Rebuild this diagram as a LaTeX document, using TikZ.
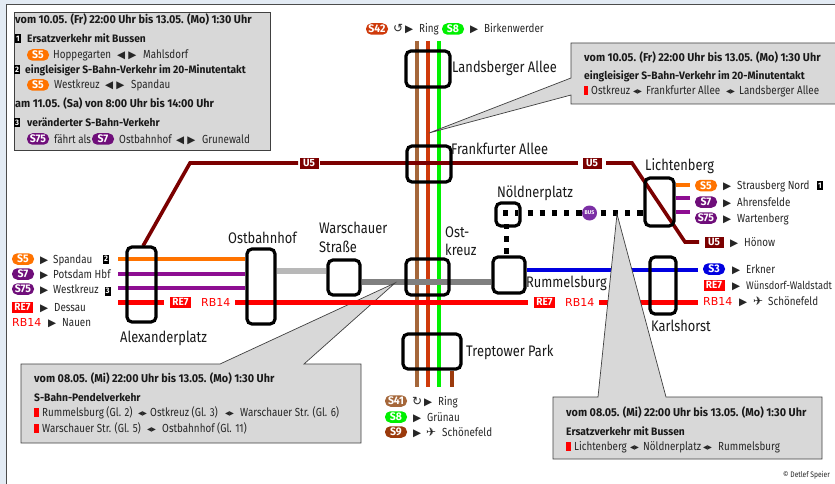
\documentclass[tikz,border=0pt]{standalone}
\usepackage{fontspec}
\setmainfont[FakeStretch=0.84,BoldFeatures={FakeStretch=0.95}]{Fira Sans}
\newfontfamily\symfont{DejaVu Sans}
\usetikzlibrary{backgrounds}
\definecolor{pageblue}{HTML}{E3EBF4}
\definecolor{calloutgray}{HTML}{D8D8D8}
\definecolor{sfive}{HTML}{FF7300}
\definecolor{sseven}{HTML}{8E0E92}
\definecolor{sseventyfive}{HTML}{6F0E7A}
\definecolor{sfourone}{HTML}{A5673A}
\definecolor{sfourtwo}{HTML}{CF3A0B}
\definecolor{seight}{HTML}{00F000}
\definecolor{snine}{HTML}{9B3A0C}
\definecolor{ufive}{HTML}{7B0000}
\definecolor{sthree}{HTML}{0000E0}
\definecolor{rered}{HTML}{FF0000}
\definecolor{busviolet}{HTML}{7B2FA5}
\newcommand{\fwd}{{\symfont\fontsize{10.5}{10}\selectfont ▶}}
\newcommand{\both}{{\symfont\fontsize{10.5}{10}\selectfont ◀\hspace{3pt}▶}}
\newcommand{\tinyboth}{{\symfont\fontsize{6}{6}\selectfont ◀\hspace{-0.5pt}▶}}
\newcommand{\plane}{{\symfont\fontsize{12}{12}\selectfont ✈}}
\newcommand{\rbname}{{\symfont\fontsize{11}{11}\selectfont RB14}}
\tikzset{
  txt/.style={anchor=base west,inner sep=0pt,font=\fontsize{11.7}{11.7}\selectfont,text=black!85},
  head/.style={anchor=base west,inner sep=0pt,font=\fontsize{11.4}{11.4}\bfseries\selectfont,text=black!90},
  subhead/.style={anchor=base west,inner sep=0pt,font=\fontsize{10.8}{10.8}\bfseries\selectfont,text=black!90},
  station/.style={draw=black,line width=3.2pt,rounded corners=5pt,inner sep=0pt},
  stlabel/.style={anchor=base west,inner sep=0pt,font=\fontsize{15.3}{15.3}\selectfont,text=black!90},
  pill/.style={rounded corners=5.4pt,fill=#1,text=white,inner sep=0pt,minimum width=22pt,minimum height=11.5pt,font=\fontsize{11}{11}\bfseries\selectfont},
  tag/.style={fill=#1,text=white,inner sep=0pt,minimum width=21pt,minimum height=11pt,font=\fontsize{10.5}{10.5}\bfseries\selectfont},
  badge/.style={fill=black,text=white,inner sep=0pt,minimum width=6pt,minimum height=9pt,font=\fontsize{8}{8}\bfseries\selectfont},
  redmark/.style={fill=rered,inner sep=0pt,minimum width=4.5pt,minimum height=9pt},
  callout/.style={fill=calloutgray,draw=black!75,line width=0.7pt},
  railline/.style={line width=4pt,draw=#1},
  busline/.style={line width=5.3pt,draw=black,dash pattern=on 5.3pt off 6.9pt},
}
\begin{document}
\begin{tikzpicture}[x=1pt,y=-1pt]
\useasboundingbox (0,0) rectangle (835,484);
% stations
\node[station,minimum width=44pt,minimum height=36pt] (landsberger) at (428,69) {};
\node[station,minimum width=44pt,minimum height=36pt] (frankfurter) at (429,164) {};
\node[station,minimum width=43pt,minimum height=36pt] (ostkreuz) at (427.5,277) {};
\node[station,minimum width=58pt,minimum height=35pt] (treptower) at (432,351.5) {};
\node[station,minimum width=29pt,minimum height=75pt] (alex) at (141.5,284.5) {};
\node[station,minimum width=28pt,minimum height=75pt] (ostbahnhof) at (261,286.5) {};
\node[station,fill=white,minimum width=32pt,minimum height=35pt] (warschauer) at (344,277.5) {};
\node[station,fill=white,minimum width=32pt,minimum height=36pt] (rummelsburg) at (509,275) {};
\node[station,minimum width=24pt,minimum height=23pt] (noeldner) at (508,214.5) {};
\node[station,minimum width=29pt,minimum height=48pt] (lichtenberg) at (659.5,202) {};
\node[station,minimum width=26pt,minimum height=57pt] (karlshorst) at (663,285.5) {};
% line ends
\coordinate (ringtop) at (428,41);
\coordinate (ringbot) at (428,387);
\coordinate (alexwest) at (118,259);
\coordinate (ufivestart) at (143,246);
\coordinate (ufivebend) at (190,163);
\coordinate (ufiveturn) at (632,163);
\coordinate (ufivelow) at (685,242);
\coordinate (ufiveend) at (699,242);
\coordinate (redstart) at (118,302);
\begin{scope}[on background layer]
\fill[pageblue] (0,0) rectangle (835,484);
\fill[white] (6,5) rectangle (835,484);
\draw[black!70,line width=1pt] (6,484) -- (6,5) -- (835,5);
\draw[railline=sfourone] (417,41) -- (417,387);
\draw[railline=sfourtwo] (ringtop) -- (ringbot);
\draw[railline=seight] (439,41) -- (439,387);
\draw[railline=snine] (treptower.south -| 452,0) -- (452,387);
\draw[railline=sfive] (alexwest) -- (ostbahnhof.west |- alexwest);
\draw[railline=sseven] (118,273.5) -- (ostbahnhof.west |- 0,273.5);
\draw[railline=sseven] (118,288) -- (245,288);
\draw[railline=ufive,line width=3.6pt] (ufivestart) -- (ufivebend) -- (298,163);
\draw[railline=ufive,line width=3.6pt] (320,163) -- (578,163);
\draw[railline=ufive,line width=3.6pt] (606,163) -- (ufiveturn) -- (ufivelow) -- (ufiveend);
\draw[railline=black!28,line width=6pt] (ostbahnhof.east |- 0,271) -- (warschauer.west |- 0,271);
\draw[railline=black!50,line width=6pt] (warschauer.east |- 0,282) -- (rummelsburg.west |- 0,282);
\draw[railline=sthree] (rummelsburg.east |- 0,270) -- (698,270);
\draw[railline=sfive] (lichtenberg.east |- 0,185) -- (690,185);
\draw[railline=sseven] (lichtenberg.east |- 0,198) -- (690,198);
\draw[railline=sseven] (lichtenberg.east |- 0,212) -- (690,212);
\draw[busline] (503,213) -- (518,213);
\draw[busline] (527.5,213) -- (lichtenberg.west |- 0,213);
\draw[busline] (506.5,224) -- (506.5,257);
% this callout lies under the red line
\draw[callout] (21,364) -- (220,364) -- (395,283) -- (304,364) -- (361,364) -- (361,443) -- (21,443) -- cycle;
\draw[railline=rered,line width=5pt] (redstart) -- (164,302);
\draw[railline=rered,line width=5pt] (235,302) -- (528,302);
\draw[railline=rered,line width=5pt] (599,302) -- (698,302);
\end{scope}
% other callouts
\draw[callout] (14,12) rectangle (270,150);
\draw[callout] (429,133) -- (571,78) -- (571,43) -- (836,43) -- (836,104) -- (571,104) -- (571,95) -- cycle;
\draw[callout] (617,214) -- (666,397) -- (822,397) -- (822,459) -- (553,459) -- (553,397) -- (598,397) -- cycle;
% bus stop
\node[circle,fill=busviolet,text=white,inner sep=0pt,minimum size=15pt,font=\fontsize{5.5}{5.5}\bfseries\selectfont] (busstop) at (589.5,213) {BUS};
% station labels
\node[stlabel] (llandsberger) at (452,73) {Landsberger Allee};
\node[stlabel] (lfrankfurter) at (451,154) {Frankfurter Allee};
\node[stlabel] (llichtenberg) at (645,170) {Lichtenberg};
\node[stlabel] (lnoeldner) at (497,197) {Nöldnerplatz};
\node[stlabel] (lostbahnhof) at (228,243) {Ostbahnhof};
\node[stlabel] (lwarschauer) at (319,233) {Warschauer};
\node[stlabel] (lstrasse) at (319,252) {Straße};
\node[stlabel] (lost) at (445,237) {Ost-};
\node[stlabel] (lkreuz) at (445,255) {kreuz};
\node[stlabel] (lrummelsburg) at (526,287) {Rummelsburg};
\node[stlabel] (ltreptower) at (466,356) {Treptower Park};
\node[stlabel] (lalex) at (120,342) {Alexanderplatz};
\node[stlabel] (lkarlshorst) at (651,331) {Karlshorst};
% line tags on the map
\node[tag=ufive,minimum width=19pt] (ufiveone) at (309,163) {U5};
\node[tag=ufive,minimum width=19pt] (ufivetwo) at (592,163) {U5};
\node[tag=rered] (reone) at (180.5,302) {RE7};
\node[txt,text=rered] (rbone) at (201,306) {\rbname};
\node[tag=rered] (retwo) at (544.5,302) {RE7};
\node[txt,text=rered] (rbtwo) at (565,306) {\rbname};
% legend top
\node[pill=sfourtwo] (pfourtwo) at (377,29) {S42};
\node[txt] (atop) at (393,33) {{\symfont\fontsize{12}{10}\selectfont ↺}};
\node[txt] (btop) at (405,33) {\fwd};
\node[txt] (ringone) at (419,33) {Ring};
\node[pill=seight] (peight) at (453,29) {S8};
\node[txt] (ctop) at (470,33) {\fwd};
\node[txt] (birken) at (484,33) {Birkenwerder};
% legend bottom
\node[pill=sfourone] (pfourone) at (396,401) {S41};
\node[txt] (abot) at (412,405) {{\symfont\fontsize{12}{10}\selectfont ↻}};
\node[txt] (bbot) at (424,405) {\fwd};
\node[txt] (ringtwo) at (438,405) {Ring};
\node[pill=seight] (peighttwo) at (396,417) {S8};
\node[txt] (cbot) at (413,421) {\fwd};
\node[txt] (gruenau) at (427,421) {Grünau};
\node[pill=snine] (pnine) at (396,432) {S9};
\node[txt] (dbot) at (413,436) {\fwd};
\node[txt] (ebot) at (426,436) {\plane};
\node[txt] (schoenone) at (442,436) {Schönefeld};
% legend left
\node[pill=sfive] (pfivew) at (23,259) {S5};
\node[txt] (aleft) at (40,263) {\fwd};
\node[txt] (spandau) at (53,263) {Spandau};
\node[badge] (btwo) at (106,259) {2};
\node[pill=sseventyfive] (psevenw) at (23,274) {S7};
\node[txt] (bleft) at (40,278) {\fwd};
\node[txt] (potsdam) at (53,278) {Potsdam Hbf};
\node[pill=sseventyfive] (psfw) at (23,289) {S75};
\node[txt] (cleft) at (40,293) {\fwd};
\node[txt] (westkreuz) at (53,293) {Westkreuz};
\node[badge] (bthree) at (107.5,291) {3};
\node[tag=rered] (rethree) at (22.5,307) {RE7};
\node[txt] (dleft) at (40,311) {\fwd};
\node[txt] (dessau) at (54,311) {Dessau};
\node[txt,text=rered] (rbthree) at (12,326) {\rbname};
\node[txt] (eleft) at (48,326) {\fwd};
\node[txt] (nauen) at (62,326) {Nauen};
% legend right
\node[pill=sfive] (pfivee) at (706,185.5) {S5};
\node[txt] (aright) at (723,189.5) {\fwd};
\node[txt] (strausberg) at (737,189.5) {Strausberg Nord};
\node[badge] (bone) at (820,185.5) {1};
\node[pill=sseventyfive] (psevene) at (706,202) {S7};
\node[txt] (bright) at (723,206) {\fwd};
\node[txt] (ahrensfelde) at (737,206) {Ahrensfelde};
\node[pill=sseventyfive] (psfe) at (706,218) {S75};
\node[txt] (cright) at (723,222) {\fwd};
\node[txt] (wartenberg) at (737,222) {Wartenberg};
\node[tag=ufive,minimum width=19pt] (ufivethree) at (714,242) {U5};
\node[txt] (dright) at (730,246) {\fwd};
\node[txt] (hoenow) at (744,246) {Hönow};
\node[pill=sthree] (pthree) at (714,269) {S3};
\node[txt] (eright) at (732,273) {\fwd};
\node[txt] (erkner) at (746,273) {Erkner};
\node[tag=rered] (refour) at (714,285) {RE7};
\node[txt] (fright) at (732,289) {\fwd};
\node[txt,font=\fontsize{11}{11}\selectfont] (wuensdorf) at (746,289) {Wünsdorf-Waldstadt};
\node[txt,text=rered] (rbfour) at (703,305) {\rbname};
\node[txt] (gright) at (739,305) {\fwd};
\node[txt] (hright) at (753,305) {\plane};
\node[txt] (schoentwo) at (768,305) {Schönefeld};
% box top left
\node[head] (ta) at (15,24) {vom 10.05. (Fr) 22:00 Uhr bis 13.05. (Mo) 1:30 Uhr};
\node[badge] (tbone) at (18,39) {1};
\node[subhead] (tb) at (27,43) {Ersatzverkehr mit Bussen};
\node[pill=sfive] (tpa) at (38,55) {S5};
\node[txt] (tc) at (53,59) {Hoppegarten};
\node[txt] (td) at (117,59) {\both};
\node[txt] (te) at (143,59) {Mahlsdorf};
\node[badge] (tbtwo) at (17,70) {2};
\node[subhead] (tf) at (25,74) {eingleisiger S-Bahn-Verkehr im 20-Minutentakt};
\node[pill=sfive] (tpb) at (38,85) {S5};
\node[txt] (tg) at (54,89) {Westkreuz};
\node[txt] (th) at (105,89) {\both};
\node[txt] (ti) at (131,89) {Spandau};
\node[head] (tj) at (15,108) {am 11.05. (Sa) von 8:00 Uhr bis 14:00 Uhr};
\node[badge] (tbthree) at (17,123) {3};
\node[subhead] (tk) at (27,127) {veränderter S-Bahn-Verkehr};
\node[pill=sseventyfive] (tpc) at (38,139) {S75};
\node[txt] (tl) at (54,143) {fährt als};
\node[pill=sseventyfive] (tpd) at (103,139) {S7};
\node[txt] (tm) at (119,143) {Ostbahnhof};
\node[txt] (tn) at (176,143) {\both};
\node[txt] (to) at (202,143) {Grunewald};
% box top right
\node[head] (ra) at (584,62) {vom 10.05. (Fr) 22:00 Uhr bis 13.05. (Mo) 1:30 Uhr};
\node[subhead] (rb) at (584,80) {eingleisiger S-Bahn-Verkehr im 20-Minutentakt};
\node[redmark] (rm) at (586,91) {};
\node[txt] (rc) at (591,95) {Ostkreuz};
\node[txt] (rd) at (633,94) {\tinyboth};
\node[txt] (re) at (646,95) {Frankfurter Allee};
\node[txt] (rf) at (726,94) {\tinyboth};
\node[txt] (rg) at (739,95) {Landsberger Allee};
% box bottom left
\node[head] (la) at (34,382) {vom 08.05. (Mi) 22:00 Uhr bis 13.05. (Mo) 1:30 Uhr};
\node[subhead] (lb) at (34,401) {S-Bahn-Pendelverkehr};
\node[redmark] (lma) at (36.5,412) {};
\node[txt] (lc) at (42,416) {Rummelsburg (Gl. 2)};
\node[txt] (ld) at (138,415) {\tinyboth};
\node[txt] (le) at (150,416) {Ostkreuz (Gl. 3)};
\node[txt] (lf) at (225,415) {\tinyboth};
\node[txt] (lg) at (240,416) {Warschauer Str. (Gl. 6)};
\node[redmark] (lmb) at (36.5,428) {};
\node[txt] (lh) at (42,432) {Warschauer Str. (Gl. 5)};
\node[txt] (li) at (147,431) {\tinyboth};
\node[txt] (lj) at (162,432) {Ostbahnhof (Gl. 11)};
% box bottom right
\node[head] (ba) at (566,416) {vom 08.05. (Mi) 22:00 Uhr bis 13.05. (Mo) 1:30 Uhr};
\node[subhead] (bb) at (566,435) {Ersatzverkehr mit Bussen};
\node[redmark] (bm) at (568.5,446) {};
\node[txt] (bc) at (574,450) {Lichtenberg};
\node[txt] (bd) at (630,449) {\tinyboth};
\node[txt] (be) at (643,450) {Nöldnerplatz};
\node[txt] (bf) at (703,449) {\tinyboth};
\node[txt] (bg) at (718,450) {Rummelsburg};
\node[txt,font=\fontsize{8}{8}\selectfont] (copyr) at (783,477) {© Detlef Speier};
\end{tikzpicture}
\end{document}
